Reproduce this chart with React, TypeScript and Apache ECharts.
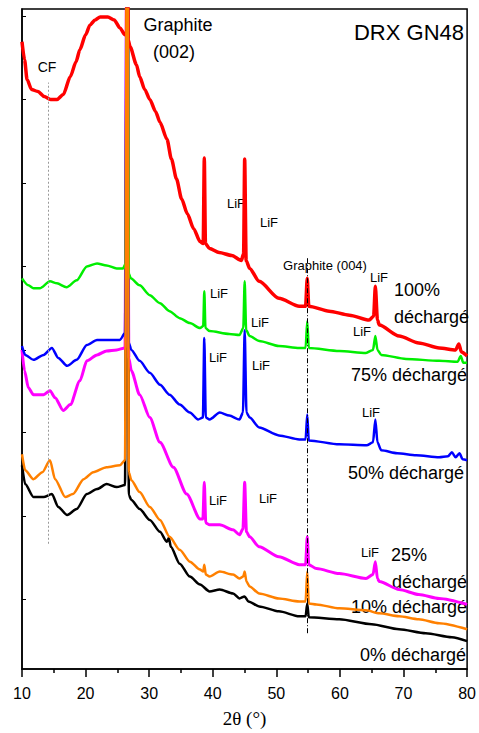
import React, { useEffect, useRef } from "react";
import * as echarts from "echarts";

// 2θ (deg) and relative intensity (arbitrary units, stacked offsets as in the figure)
const red100: [number, number][] = [
  [10.0, 631], [10.4, 613], [10.8, 593], [11.5, 583], [12.5, 581], [13.5, 576], [14.5, 573], [15.5, 573],
  [16.5, 578], [17.6, 596], [18.5, 611], [19.1, 623], [20.0, 638], [20.7, 648], [21.5, 653], [22.3, 656],
  [23.5, 656], [24.5, 653], [25.4, 645], [26.2, 638], [26.45, 640], [26.56, 900], [26.7, 633], [27.0, 626],
  [28.0, 608], [28.5, 596], [29.3, 583], [30.1, 573], [31.0, 561], [31.7, 550], [32.8, 533], [33.5, 513],
  [34.3, 493], [35.1, 473], [36.0, 458], [37.0, 443], [38.0, 430], [38.5, 428], [38.67, 514], [38.85, 428],
  [39.5, 423], [41.0, 419], [43.0, 416], [44.5, 411], [44.85, 418], [45.02, 513], [45.25, 411], [45.8, 403],
  [47.3, 390], [50.4, 373], [53.6, 365], [54.6, 365], [54.86, 393], [55.1, 365], [58.3, 360], [61.5, 356],
  [64.6, 351], [65.3, 355], [65.57, 385], [65.9, 351], [66.2, 346], [69.3, 335], [72.4, 328], [75.6, 323],
  [78.2, 321], [78.7, 327], [79.1, 319], [80.0, 315],
];
const green75: [number, number][] = [
  [10.0, 393], [11.0, 386], [11.8, 383], [12.8, 383], [14.4, 390], [15.5, 388], [17.0, 384], [18.6, 391],
  [20.2, 405], [21.8, 408], [23.3, 406], [24.9, 403], [25.9, 403], [26.3, 408], [26.56, 900], [26.8, 398],
  [27.1, 393], [28.5, 386], [30.1, 376], [31.7, 368], [33.2, 360], [34.8, 353], [36.4, 348], [38.0, 343],
  [38.5, 345], [38.67, 380], [38.85, 343], [39.5, 340], [42.6, 337], [44.2, 336], [44.8, 343], [45.02, 390],
  [45.25, 341], [45.8, 335], [47.3, 330], [50.4, 325], [53.6, 323], [54.6, 323], [54.86, 350], [55.1, 323],
  [59.9, 320], [64.1, 318], [65.2, 321], [65.57, 335], [65.9, 321], [66.5, 316], [70.4, 312], [75.6, 310],
  [78.5, 309], [79.0, 315], [79.4, 308], [80.0, 308],
];
const blue50: [number, number][] = [
  [10.0, 325], [10.5, 316], [11.8, 311], [13.4, 316], [14.7, 323], [15.7, 313], [17.1, 305], [18.6, 311],
  [20.2, 326], [21.8, 331], [23.8, 331], [25.4, 331], [26.2, 338], [26.56, 900], [26.8, 328], [27.2, 321],
  [28.5, 310], [30.1, 298], [31.7, 286], [33.2, 276], [34.8, 266], [36.4, 258], [37.7, 251], [38.45, 253],
  [38.67, 333], [38.9, 253], [39.5, 251], [41.1, 258], [42.6, 255], [44.2, 251], [44.75, 258], [45.02, 341],
  [45.3, 258], [45.8, 253], [47.3, 243], [50.4, 235], [53.6, 231], [54.6, 231], [54.86, 256], [55.1, 230],
  [59.9, 226], [64.2, 225], [65.2, 228], [65.57, 251], [65.9, 228], [66.5, 220], [69.0, 217], [72.0, 215],
  [75.6, 213], [77.0, 214], [77.6, 218], [78.2, 213], [78.8, 217], [79.3, 211], [80.0, 210],
];
const magenta25: [number, number][] = [
  [10.0, 321], [10.4, 300], [11.0, 283], [11.8, 276], [13.4, 276], [14.4, 280], [15.2, 273], [16.5, 260],
  [17.6, 266], [19.1, 290], [20.2, 310], [21.8, 316], [23.3, 320], [24.9, 321], [26.2, 323], [26.56, 900],
  [26.8, 313], [27.2, 300], [28.5, 276], [30.1, 253], [31.7, 228], [33.8, 203], [35.9, 176], [38.0, 151],
  [38.45, 151], [38.67, 188], [38.9, 147], [39.5, 145], [41.1, 145], [43.2, 140], [44.2, 135], [44.75, 141],
  [45.02, 188], [45.3, 138], [45.8, 133], [47.3, 123], [50.4, 113], [53.6, 105], [54.6, 105], [54.86, 133],
  [55.1, 105], [56.3, 101], [59.9, 96], [64.1, 91], [65.2, 95], [65.57, 108], [65.9, 91], [66.2, 88],
  [69.3, 80], [72.4, 75], [75.6, 71], [80.0, 65],
];
const orange10: [number, number][] = [
  [10.0, 216], [10.5, 200], [11.8, 191], [13.2, 198], [14.4, 210], [15.2, 191], [16.8, 173], [18.0, 176],
  [19.7, 191], [21.2, 198], [23.3, 203], [25.4, 205], [26.2, 210], [26.56, 900], [26.8, 198], [27.2, 190],
  [28.5, 178], [30.1, 163], [31.7, 150], [33.2, 133], [34.8, 120], [36.4, 108], [38.0, 100], [38.5, 98],
  [38.67, 105], [38.9, 95], [39.5, 93], [41.1, 98], [43.2, 95], [44.2, 91], [44.8, 93], [45.02, 98],
  [45.3, 88], [45.8, 83], [47.3, 76], [50.4, 71], [53.6, 68], [54.6, 68], [54.86, 98], [55.1, 66],
  [56.3, 65], [59.9, 61], [64.1, 59], [66.2, 56], [69.3, 53], [72.4, 50], [75.6, 46], [80.0, 40],
];
const black0: [number, number][] = [
  [10.0, 205], [10.5, 186], [11.8, 173], [13.4, 173], [14.7, 176], [15.7, 163], [17.1, 155], [18.6, 161],
  [20.2, 176], [21.8, 181], [23.3, 186], [24.9, 183], [26.2, 185], [26.56, 900], [26.8, 175], [27.2, 170],
  [28.5, 161], [30.1, 150], [31.7, 138], [32.8, 128], [33.1, 132], [33.4, 123], [34.8, 106], [36.4, 93],
  [38.0, 85], [39.5, 78], [41.1, 80], [43.2, 76], [44.2, 71], [45.0, 73], [45.6, 68], [47.3, 63],
  [50.4, 58], [53.6, 53], [54.6, 53], [54.86, 66], [55.1, 52], [59.9, 50], [65.0, 45], [69.3, 40],
  [73.5, 36], [77.6, 32], [80.0, 28],
];

const xTicks = [10, 20, 30, 40, 50, 60, 70, 80];
const yTickValues = [70, 154, 238, 321, 405, 489, 573, 657];
const cfLine: [number, number][] = [[14.2, 126], [14.2, 590]];
const g004Line: [number, number][] = [[54.86, 36], [54.86, 415]];

const SANS = "Liberation Sans, Arial, sans-serif";

export default function App() {
  const ref = useRef<HTMLDivElement>(null);
  useEffect(() => {
    if (!ref.current) return;
    const chart = echarts.init(ref.current, null, { renderer: "svg" });
    const mk = (name: string, data: [number, number][], color: string, w: number) => ({
      name,
      type: "line",
      data,
      showSymbol: false,
      symbol: "none",
      clip: true,
      smooth: 0.25,
      smoothMonotone: "x",
      lineStyle: { color, width: w, join: "round" },
      silent: true,
    });
    const txt = (text: string, x: number, y: number, size: number, align: string = "center") => ({
      type: "text",
      x,
      y,
      silent: true,
      style: {
        text,
        fontFamily: SANS,
        fontSize: size,
        fill: "#000",
        align,
        verticalAlign: "middle",
      },
    });
    chart.setOption({
      animation: false,
      backgroundColor: "#fff",
      grid: { left: 22, right: 11, top: 9, bottom: 60, show: true, borderColor: "#000", borderWidth: 1.5 },
      xAxis: {
        type: "value",
        min: xTicks[0],
        max: xTicks[xTicks.length - 1],
        interval: 10,
        name: "2θ (°)",
        nameLocation: "middle",
        nameGap: 40,
        nameTextStyle: { fontFamily: "Liberation Serif, Times New Roman, serif", fontSize: 19, color: "#000" },
        axisLine: { show: true, lineStyle: { color: "#000", width: 1.5 } },
        axisTick: { show: true, length: 8, lineStyle: { color: "#000", width: 1.5 } },
        minorTick: { show: true, splitNumber: 2, length: 4, lineStyle: { color: "#000", width: 1.5 } },
        axisLabel: { fontFamily: SANS, fontSize: 16, color: "#000", margin: 16 },
        splitLine: { show: false },
      },
      yAxis: {
        type: "value",
        min: 0,
        max: 664,
        axisLine: { show: true, lineStyle: { color: "#000", width: 1.5 } },
        axisTick: { show: true, inside: true, length: 4, customValues: yTickValues, lineStyle: { color: "#000", width: 1 } },
        axisLabel: { show: false },
        splitLine: { show: false },
      },
      series: [
        {
          ...mk("0%", black0, "#000000", 2.5),
          markLine: {
            silent: true,
            symbol: "none",
            label: { show: false },
            data: [
              [{ coord: cfLine[0] }, { coord: cfLine[1] }],
            ],
            lineStyle: { color: "#999", type: [2, 2], width: 1 },
          },
        },
        mk("25%", magenta25, "#ff00ff", 3),
        mk("50%", blue50, "#0000ff", 2.5),
        mk("75%", green75, "#00ee00", 2.5),
        {
          ...mk("100%", red100, "#ff0000", 3.5),
          markLine: {
            silent: true,
            symbol: "none",
            label: { show: false },
            data: [
              [{ coord: g004Line[0] }, { coord: g004Line[1] }],
            ],
            lineStyle: { color: "#000", type: [5, 2, 1, 2], width: 1 },
          },
        },
        mk("10%", orange10, "#ff8000", 2.5),
      ],
      graphic: [
        txt("DRX GN48", 464, 32, 22, "right"),
        txt("Graphite", 178, 25, 18),
        txt("(002)", 174, 52, 18),
        txt("CF", 47, 67, 14),
        txt("Graphite (004)", 325, 265, 13),
        txt("LiF", 236, 203, 13),
        txt("LiF", 269, 222, 13),
        txt("LiF", 379, 277, 13),
        txt("LiF", 219, 293, 13),
        txt("LiF", 260, 322, 13),
        txt("LiF", 362, 331, 13),
        txt("LiF", 218, 357, 13),
        txt("LiF", 261, 365, 13),
        txt("LiF", 371, 412, 13),
        txt("LiF", 218, 500, 13),
        txt("LiF", 268, 498, 13),
        txt("LiF", 370, 552, 13),
        txt("100%", 394, 290, 18, "left"),
        txt("déchargé", 394, 317, 18, "left"),
        txt("75% déchargé", 467, 375, 18, "right"),
        txt("50% déchargé", 464, 473, 18, "right"),
        txt("25%", 391, 555, 18, "left"),
        txt("déchargé", 467, 582, 18, "right"),
        txt("10% déchargé", 467, 607, 18, "right"),
        txt("0% déchargé", 466, 655, 18, "right"),
      ],
    });
    return () => chart.dispose();
  }, []);
  return <div ref={ref} style={{ width: 479, height: 733, position: "absolute", left: 0, top: 0 }} />;
}
